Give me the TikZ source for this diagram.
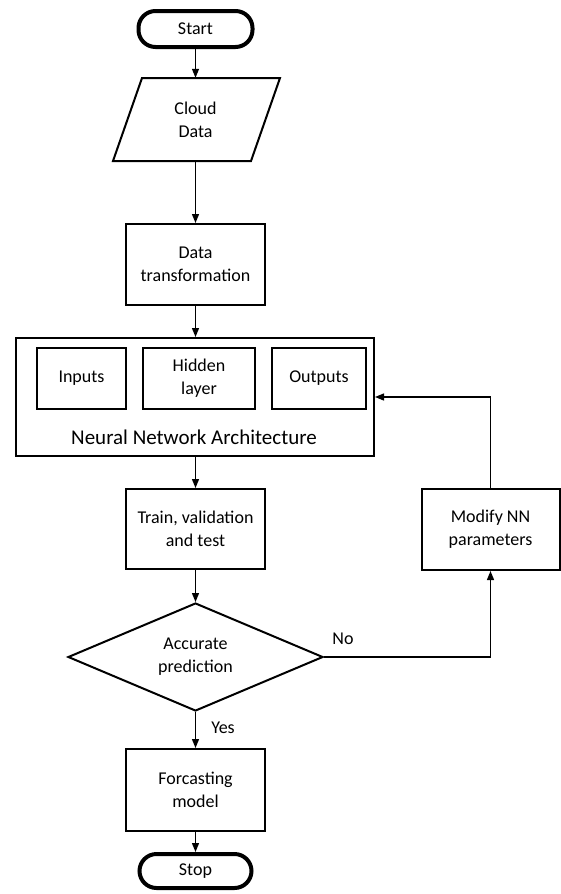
\documentclass[tikz,border=0pt]{standalone}
\usepackage{fontspec}
\setmainfont{Carlito}
\usetikzlibrary{arrows.meta,shapes.geometric}
\begin{document}
\begin{tikzpicture}[x=1pt,y=-1pt,
  font=\fontsize{18}{23}\selectfont,
  box/.style={draw, line width=2pt, inner sep=0pt, align=center},
  term/.style={draw, line width=4pt, rounded corners=17pt, inner sep=0pt},
  arr/.style={line width=1.3pt, -{Triangle[length=9pt,width=7pt]}},
  lbl/.style={inner sep=0pt}]
\useasboundingbox (0,0) rectangle (561,894);
% terminals
\node[term, minimum width=114pt, minimum height=36pt] (start) at (195.5,29) {Start};
\node[term, minimum width=112pt, minimum height=34pt] (stop) at (195.5,871) {Stop};
% input parallelogram
\node[inner sep=0pt, minimum width=140pt, minimum height=83pt, align=center] (cloud) at (195.5,119.5) {Cloud\\Data};
\draw[line width=2pt, line join=miter] (142,78) -- (280,78) -- (251,161) -- (113,161) -- cycle;
% process boxes
\node[box, minimum width=139pt, minimum height=81pt] (dt) at (195.5,264.5) {Data\\transformation};
\node[box, minimum width=358pt, minimum height=118pt] (nn) at (195,397) {};
\node[box, minimum width=89pt, minimum height=61pt] (inp) at (81.5,378.5) {Inputs};
\node[box, minimum width=112pt, minimum height=61pt] (hid) at (199,378.5) {Hidden\\layer};
\node[box, minimum width=94pt, minimum height=61pt] (out) at (319,378.5) {Outputs};
\node[lbl] (nnlbl) at (194,437) {\fontsize{21}{25}\selectfont Neural Network Architecture};
\node[box, minimum width=139pt, minimum height=80pt] (train) at (195.5,529) {Train, validation\\and test};
\node[box, minimum width=138pt, minimum height=81pt] (mod) at (490.5,529.5) {Modify NN\\parameters};
\node[draw, diamond, line width=2pt, minimum width=255pt, minimum height=108pt, aspect=2.36, inner sep=0pt, align=center] (dec) at (195.5,657) {Accurate\\prediction};
\node[box, minimum width=139pt, minimum height=82pt] (fc) at (195.5,790) {Forcasting\\model};
% labels
\node[lbl] (no) at (343,639) {No};
\node[lbl] (yes) at (223,728) {Yes};
% connectors
\draw[arr] (start.south) -- (cloud.north);
\draw[arr] (cloud.south) -- (dt.north);
\draw[arr] (dt.south) -- (dt.south |- nn.north);
\draw[arr] (dt.south |- nn.south) -- (train.north);
\draw[arr] (train.south) -- (dec.north);
\draw[arr] (dec.south) -- (fc.north);
\draw[arr] (fc.south) -- (stop.north);
\draw[arr] (dec.east) -| (mod.south);
\draw[arr] (mod.north) |- (nn.east);
\end{tikzpicture}
\end{document}
